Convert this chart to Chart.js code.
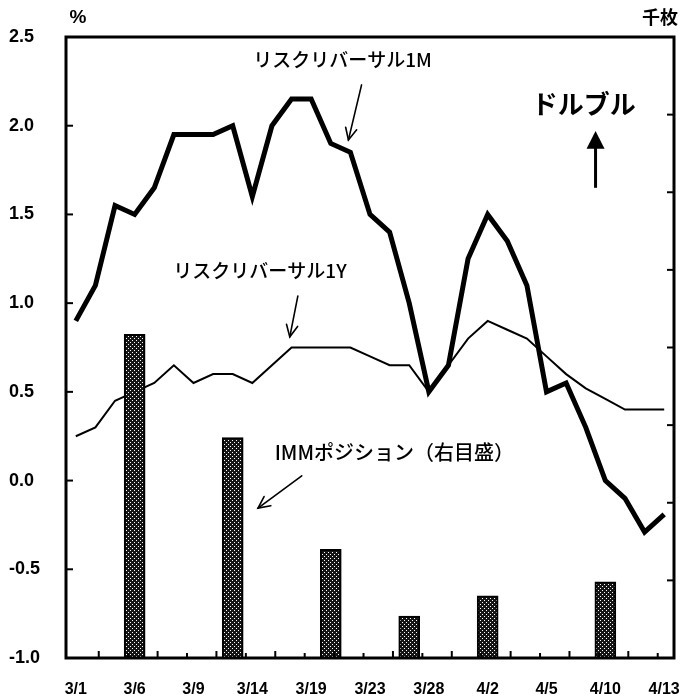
<!DOCTYPE html>
<html>
<head>
<meta charset="utf-8">
<script src="https://cdn.jsdelivr.net/npm/chart.js@4/dist/chart.umd.min.js"></script>
<style>
  html, body { margin: 0; padding: 0; background: #fff; }
  #wrap { width: 689px; height: 699px; }
</style>
</head>
<body>
<div id="wrap"><canvas id="c" width="689" height="699"></canvas></div>
<script>
// Trading days, 1 Mar – 13 Apr
const dates = ['3/1','3/2','3/5','3/6','3/7','3/8','3/9','3/12','3/13','3/14','3/15','3/16','3/19','3/21','3/22','3/23','3/26','3/27','3/28','3/29','3/30','4/2','4/3','4/4','4/5','4/6','4/9','4/10','4/11','4/12','4/13'];
// Risk reversal, 1 month (%)
const rr1M = [0.9,1.1,1.55,1.5,1.65,1.95,1.95,1.95,2.0,1.6,2.0,2.15,2.15,1.9,1.85,1.5,1.4,1.0,0.5,0.65,1.25,1.5,1.35,1.1,0.5,0.55,0.3,0.0,-0.1,-0.29,-0.19];
// Risk reversal, 1 year (%)
const rr1Y = [0.25,0.3,0.45,0.5,0.55,0.65,0.55,0.6,0.6,0.55,0.65,0.75,0.75,0.75,0.75,0.7,0.65,0.65,0.5,0.65,0.8,0.9,0.85,0.8,0.7,0.6,0.52,0.46,0.4,0.4,0.4];
// IMM position (thousand contracts, right scale)
const immDates = ['3/6','3/13','3/21','3/27','4/2','4/10'];
const immValues = [41.7, 28.4, 14.0, 5.4, 8.0, 9.8];
// Left scale ticks
const leftTicks = [-1.0,-0.5,0.0,0.5,1.0,1.5,2.0,2.5];

const latin = '"Liberation Sans", Arial, sans-serif';
const jp = '"Noto Sans CJK JP", sans-serif';

const canvas = document.getElementById('c');
const ctx0 = canvas.getContext('2d');

// stippled fill for the bars
const tile = document.createElement('canvas');
tile.width = 4; tile.height = 4;
const tc = tile.getContext('2d');
tc.fillStyle = '#151515'; tc.fillRect(0, 0, 4, 4);
tc.fillStyle = '#ffffff'; tc.fillRect(0, 0, 1, 1); tc.fillRect(2, 2, 1, 1);
const stipple = ctx0.createPattern(tile, 'repeat');

function arrowV(ctx, x1, y1, x2, y2, lw, head) {
  ctx.save();
  ctx.strokeStyle = '#000';
  ctx.lineWidth = lw;
  ctx.lineCap = 'round';
  ctx.beginPath(); ctx.moveTo(x1, y1); ctx.lineTo(x2, y2); ctx.stroke();
  const a = Math.atan2(y2 - y1, x2 - x1);
  const s = 0.45;
  ctx.beginPath();
  ctx.moveTo(x2 - head * Math.cos(a - s), y2 - head * Math.sin(a - s));
  ctx.lineTo(x2, y2);
  ctx.lineTo(x2 - head * Math.cos(a + s), y2 - head * Math.sin(a + s));
  ctx.stroke();
  ctx.restore();
}

const decorations = {
  id: 'decorations',
  afterDraw(chart) {
    const { ctx, chartArea: ca, scales } = chart;
    const X = v => scales.x.getPixelForValue(v);
    const Y = v => scales.y.getPixelForValue(v);
    const Y2 = v => scales.y2.getPixelForValue(v);
    ctx.save();
    ctx.strokeStyle = '#000';
    ctx.fillStyle = '#000';

    // inner tick marks
    ctx.lineWidth = 2;
    leftTicks.forEach(v => {
      ctx.beginPath(); ctx.moveTo(ca.left, Y(v)); ctx.lineTo(ca.left + 7, Y(v)); ctx.stroke();
    });
    for (let v = 10; v < 80; v += 10) {
      ctx.beginPath(); ctx.moveTo(ca.right, Y2(v)); ctx.lineTo(ca.right - 7, Y2(v)); ctx.stroke();
    }
    for (let k = 0; k < 20; k++) {
      const px = X(1.17 + 1.5 * k);
      ctx.beginPath(); ctx.moveTo(px, ca.bottom); ctx.lineTo(px, ca.bottom - (k % 2 ? 5 : 7)); ctx.stroke();
    }

    // frame
    ctx.lineWidth = 3;
    ctx.strokeRect(ca.left, ca.top, ca.right - ca.left, ca.bottom - ca.top);

    // axis units
    ctx.font = 'bold 19px ' + latin;
    ctx.textAlign = 'center'; ctx.textBaseline = 'middle';
    ctx.fillText('%', 78, 18);
    ctx.font = 'bold 18px ' + jp;
    ctx.fillText('千枚', 660, 17);

    // series captions
    ctx.font = '500 19px ' + jp;
    ctx.fillText('リスクリバーサル1M', X(13.6), Y(2.37));
    arrowV(ctx, X(14.57), Y(2.23), X(13.9), Y(1.92), 1.6, 13);
    ctx.fillText('リスクリバーサル1Y', X(9.39), Y(1.18));
    arrowV(ctx, X(11.32), Y(1.04), X(10.91), Y(0.81), 1.6, 13);
    ctx.font = '500 20px ' + jp;
    ctx.fillText('IMMポジション（右目盛）', X(16.24), Y(0.157));
    arrowV(ctx, X(11.52), Y(0.027), X(9.29), Y(-0.155), 1.6, 13);

    // dollar-bullish marker
    ctx.font = 'bold 26px ' + jp;
    ctx.fillText('ドルブル', X(25.9), Y(2.12));
    ctx.lineWidth = 3;
    ctx.lineCap = 'butt';
    ctx.beginPath(); ctx.moveTo(X(26.5), Y(1.65)); ctx.lineTo(X(26.5), Y(1.88)); ctx.stroke();
    ctx.beginPath();
    ctx.moveTo(X(26.5) - 9, Y(1.87));
    ctx.lineTo(X(26.5) + 9, Y(1.87));
    ctx.lineTo(X(26.5), Y(1.97));
    ctx.closePath(); ctx.fill();
    ctx.restore();
  }
};

new Chart(canvas, {
  data: {
    labels: dates,
    datasets: [
      {
        type: 'bar',
        label: 'IMMポジション',
        data: immDates.map((d, i) => ({ x: d, y: immValues[i] })),
        yAxisID: 'y2',
        backgroundColor: stipple,
        borderColor: '#000',
        borderWidth: 2,
        barThickness: 21,
        order: 0
      },
      {
        type: 'line',
        label: 'リスクリバーサル1M',
        data: rr1M,
        yAxisID: 'y',
        borderColor: '#000',
        borderWidth: 5,
        borderJoinStyle: 'miter',
        pointRadius: 0,
        tension: 0,
        order: 1
      },
      {
        type: 'line',
        label: 'リスクリバーサル1Y',
        data: rr1Y,
        yAxisID: 'y',
        borderColor: '#000',
        borderWidth: 2,
        pointRadius: 0,
        tension: 0,
        order: 2
      }
    ]
  },
  options: {
    responsive: false,
    animation: false,
    devicePixelRatio: 1,
    layout: { padding: { left: 9, right: 0, top: 37, bottom: 0 } },
    plugins: { legend: { display: false }, tooltip: { enabled: false } },
    scales: {
      x: {
        type: 'category',
        offset: true,
        grid: { display: false, drawTicks: false },
        border: { display: false },
        ticks: {
          autoSkip: false,
          maxRotation: 0,
          padding: 22,
          color: '#000',
          font: { family: latin, size: 16, weight: 'bold' },
          callback: (v, i) => (i % 3 === 0 ? dates[i] : '')
        },
        afterFit: s => { s.height = 41; s.paddingLeft = 0; s.paddingRight = 0; }
      },
      y: {
        position: 'left',
        min: -1.0, max: 2.5,
        afterBuildTicks: s => { s.ticks = leftTicks.map(v => ({ value: v })); },
        grid: { display: false, drawTicks: false },
        border: { display: false },
        ticks: {
          crossAlign: 'far',
          color: '#000',
          font: { family: latin, size: 18, weight: 'bold' },
          callback: v => v.toFixed(1)
        },
        afterFit: s => { s.width = 57; s.paddingTop = 0; s.paddingBottom = 0; }
      },
      y2: {
        position: 'right',
        min: 0, max: 80,
        ticks: { display: false, stepSize: 10 },
        grid: { display: false, drawTicks: false },
        border: { display: false },
        afterFit: s => { s.width = 15; }
      }
    }
  },
  plugins: [decorations]
});
</script>
</body>
</html>
